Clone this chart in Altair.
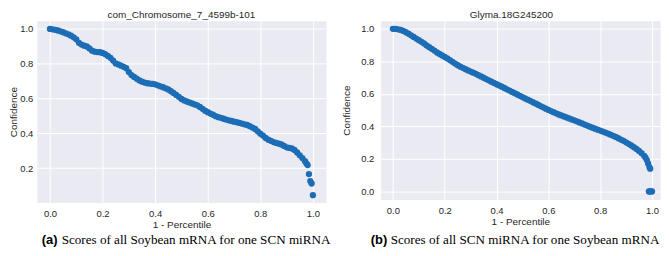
import altair as alt
import pandas as pd

left_title = "com_Chromosome_7_4599b-101"
right_title = "Glyma.18G245200"
x_title = "1 - Percentile"
y_title = "Confidence"
cap_a_tag = "(a)"
cap_a_text = "Scores of all Soybean mRNA for one SCN miRNA"
cap_b_tag = "(b)"
cap_b_text = "Scores of all SCN miRNA for one Soybean mRNA"

x_ticks = [0.0, 0.2, 0.4, 0.6, 0.8, 1.0]
left_y_ticks = [0.2, 0.4, 0.6, 0.8, 1.0]
right_y_ticks = [0.0, 0.2, 0.4, 0.6, 0.8, 1.0]

left_x = [
    0.00, 0.01, 0.02, 0.03, 0.04, 0.05, 0.06, 0.07, 0.08, 0.09,
    0.10, 0.11, 0.12, 0.13, 0.14, 0.15, 0.16, 0.17, 0.18, 0.19,
    0.20, 0.21, 0.22, 0.23, 0.24, 0.25, 0.26, 0.27, 0.28, 0.29,
    0.30, 0.31, 0.32, 0.33, 0.34, 0.35, 0.36, 0.37, 0.38, 0.39,
    0.40, 0.41, 0.42, 0.43, 0.44, 0.45, 0.46, 0.47, 0.48, 0.49,
    0.50, 0.51, 0.52, 0.53, 0.54, 0.55, 0.56, 0.57, 0.58, 0.59,
    0.60, 0.61, 0.62, 0.63, 0.64, 0.65, 0.66, 0.67, 0.68, 0.69,
    0.70, 0.71, 0.72, 0.73, 0.74, 0.75, 0.76, 0.77, 0.78, 0.79,
    0.80, 0.81, 0.82, 0.83, 0.84, 0.85, 0.86, 0.87, 0.88, 0.89,
    0.90, 0.91, 0.92, 0.93, 0.94, 0.95, 0.96, 0.97,
    0.975, 0.98, 0.985, 0.99, 0.995, 1.00,
]
left_y = [
    1.000, 0.998, 0.995, 0.991, 0.986, 0.981, 0.975, 0.969, 0.961, 0.952,
    0.940, 0.920, 0.910, 0.904, 0.899, 0.888, 0.875, 0.869, 0.867, 0.866,
    0.862, 0.855, 0.845, 0.834, 0.818, 0.802, 0.796, 0.789, 0.782, 0.774,
    0.752, 0.735, 0.724, 0.714, 0.704, 0.697, 0.692, 0.688, 0.686, 0.684,
    0.682, 0.676, 0.670, 0.665, 0.659, 0.652, 0.642, 0.632, 0.621, 0.610,
    0.598, 0.589, 0.583, 0.578, 0.572, 0.566, 0.561, 0.552, 0.541, 0.530,
    0.522, 0.514, 0.507, 0.499, 0.493, 0.489, 0.484, 0.479, 0.475, 0.471,
    0.467, 0.464, 0.460, 0.456, 0.452, 0.448, 0.441, 0.433, 0.425, 0.412,
    0.398, 0.387, 0.374, 0.364, 0.357, 0.350, 0.345, 0.341, 0.336, 0.328,
    0.320, 0.316, 0.313, 0.305, 0.290, 0.274, 0.258, 0.240,
    0.228, 0.218, 0.166, 0.126, 0.112, 0.045,
]

right_x = [
    0.00, 0.01, 0.02, 0.03, 0.04, 0.05, 0.06, 0.07, 0.08, 0.09,
    0.10, 0.11, 0.12, 0.13, 0.14, 0.15, 0.16, 0.17, 0.18, 0.19,
    0.20, 0.21, 0.22, 0.23, 0.24, 0.25, 0.26, 0.27, 0.28, 0.29,
    0.30, 0.31, 0.32, 0.33, 0.34, 0.35, 0.36, 0.37, 0.38, 0.39,
    0.40, 0.41, 0.42, 0.43, 0.44, 0.45, 0.46, 0.47, 0.48, 0.49,
    0.50, 0.51, 0.52, 0.53, 0.54, 0.55, 0.56, 0.57, 0.58, 0.59,
    0.60, 0.61, 0.62, 0.63, 0.64, 0.65, 0.66, 0.67, 0.68, 0.69,
    0.70, 0.71, 0.72, 0.73, 0.74, 0.75, 0.76, 0.77, 0.78, 0.79,
    0.80, 0.81, 0.82, 0.83, 0.84, 0.85, 0.86, 0.87, 0.88, 0.89,
    0.90, 0.91, 0.92, 0.93, 0.94, 0.95, 0.96, 0.97,
    0.975, 0.98, 0.985, 0.99, 0.993,
    0.988, 0.992, 0.996, 1.00,
]
right_y = [
    1.000, 0.999, 0.997, 0.993, 0.987, 0.979, 0.970, 0.960, 0.950, 0.940,
    0.930, 0.920, 0.910, 0.898, 0.887, 0.877, 0.866, 0.855, 0.845, 0.836,
    0.827, 0.818, 0.808, 0.797, 0.786, 0.776, 0.767, 0.760, 0.752, 0.744,
    0.737, 0.730, 0.723, 0.715, 0.707, 0.699, 0.691, 0.683, 0.675, 0.667,
    0.659, 0.652, 0.644, 0.636, 0.628, 0.620, 0.612, 0.604, 0.596, 0.588,
    0.580, 0.572, 0.564, 0.557, 0.549, 0.541, 0.533, 0.525, 0.517, 0.509,
    0.501, 0.494, 0.487, 0.480, 0.473, 0.467, 0.461, 0.455, 0.449, 0.443,
    0.437, 0.431, 0.424, 0.418, 0.411, 0.405, 0.398, 0.392, 0.386, 0.380,
    0.374, 0.368, 0.362, 0.356, 0.349, 0.342, 0.335, 0.327, 0.319, 0.311,
    0.302, 0.293, 0.283, 0.272, 0.261, 0.249, 0.235, 0.219,
    0.208, 0.193, 0.172, 0.150, 0.140,
    0.000, 0.000, 0.000, 0.000,
]

BLUE = "#1c6db5"
TXT = "#262626"


def panel(xs, ys, title, ydomain, yticks, xdomain, width, height,
          title_dx, y_label_pad, y_title_pad,
          tag, tag_x, text, text_x, cap_y):
    df = pd.DataFrame({"x": xs, "y": ys})
    pts = alt.Chart(df).mark_circle(size=40, color=BLUE, opacity=1).encode(
        x=alt.X("x:Q",
                scale=alt.Scale(domain=xdomain, nice=False, zero=False),
                axis=alt.Axis(values=x_ticks, format=".1f", title=x_title)),
        y=alt.Y("y:Q",
                scale=alt.Scale(domain=ydomain, nice=False, zero=False),
                axis=alt.Axis(values=yticks, format=".1f", title=y_title,
                              labelPadding=y_label_pad,
                              titlePadding=y_title_pad)),
    )
    tag_mark = alt.Chart(pd.DataFrame({"t": [tag]})).mark_text(
        font="Liberation Sans", fontWeight="bold", fontSize=13,
        align="left", baseline="middle", color="black",
    ).encode(x=alt.value(tag_x), y=alt.value(cap_y), text="t:N")
    txt_mark = alt.Chart(pd.DataFrame({"t": [text]})).mark_text(
        font="Liberation Serif", fontSize=13.2,
        align="left", baseline="middle", color="black",
    ).encode(x=alt.value(text_x), y=alt.value(cap_y), text="t:N")
    return alt.layer(pts, tag_mark, txt_mark).properties(
        width=width, height=height,
        title=alt.TitleParams(title, fontSize=10, font="Liberation Sans",
                              fontWeight="normal", color=TXT, offset=1,
                              dx=title_dx),
    )


a = panel(left_x, left_y, left_title, [0.0025, 1.0475], left_y_ticks,
          [-0.05, 1.05], 291, 183, 0, 4, 1,
          cap_a_tag, 5, cap_a_text, 25, 221)
b = panel(right_x, right_y, right_title, [-0.05, 1.05], right_y_ticks,
          [-0.047, 1.031], 281, 180, -9, 7, 9,
          cap_b_tag, -10, cap_b_text, 10, 221)

chart = alt.hconcat(a, b, spacing=55, bounds="flush").properties(
    padding=0
).configure_view(
    fill="#EAEAF2", stroke="transparent"
).configure_axis(
    labelFont="Liberation Sans", titleFont="Liberation Sans",
    labelFontSize=9.5, titleFontSize=10, labelColor=TXT, titleColor=TXT,
    titleFontWeight="normal", gridColor="white", gridWidth=1,
    domain=False, ticks=False,
).configure_axisX(labelPadding=6, titlePadding=2)

chart.save("out.html", embed_options={"renderer": "svg", "actions": False})
